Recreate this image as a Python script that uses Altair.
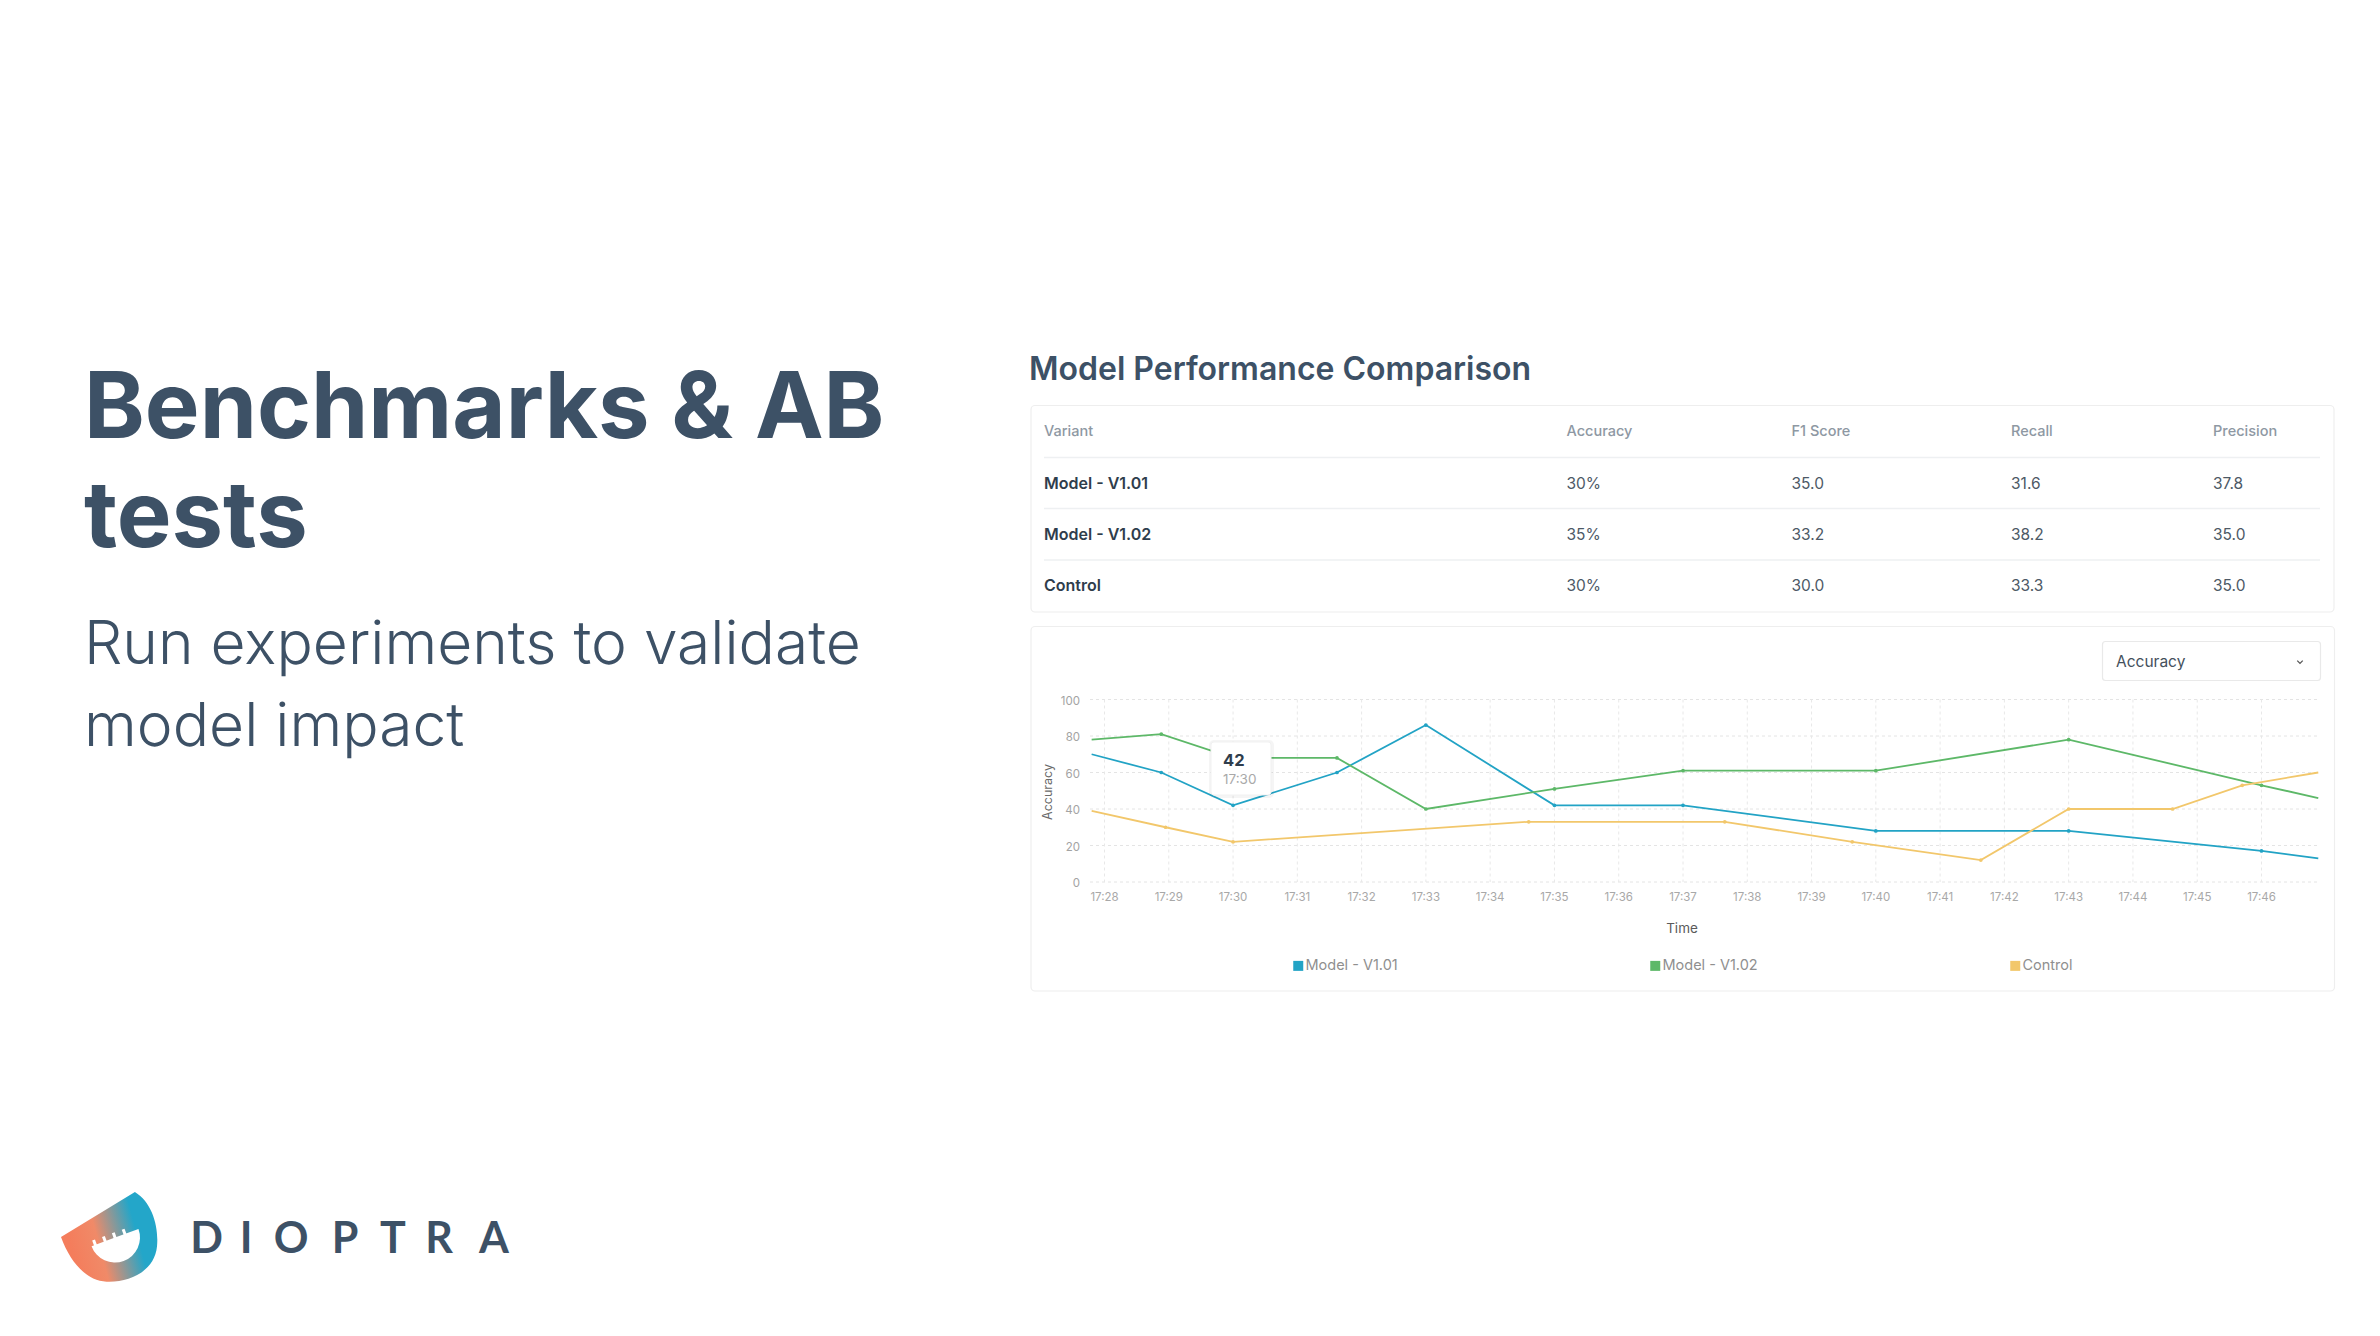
import altair as alt
import pandas as pd

# ---------------- data ----------------
SERIES = ["Model - V1.01", "Model - V1.02", "Control"]
COLORS = ["#22a3c5", "#5db868", "#f2c76b"]

V101_TIMES = ["17:27:48", "17:28:53", "17:30:00", "17:31:37", "17:33:00", "17:35:00",
              "17:37:00", "17:40:00", "17:43:00", "17:46:00", "17:46:53"]
V101_VALUES = [70, 60, 42, 60, 86, 42, 42, 28, 28, 17, 13]

V102_TIMES = ["17:27:48", "17:28:53", "17:30:00", "17:31:37", "17:33:00", "17:35:00",
              "17:37:00", "17:40:00", "17:43:00", "17:46:00", "17:46:53"]
V102_VALUES = [78, 81, 68, 68, 40, 51, 61, 61, 78, 53, 46]

CTRL_TIMES = ["17:27:48", "17:28:57", "17:30:00", "17:34:36", "17:37:39", "17:39:38",
              "17:41:38", "17:43:00", "17:44:37", "17:45:42", "17:46:53"]
CTRL_VALUES = [39, 30, 22, 33, 33, 22, 12, 40, 40, 53, 60]

X_TICK_LABELS = ["17:28", "17:29", "17:30", "17:31", "17:32", "17:33", "17:34", "17:35",
                 "17:36", "17:37", "17:38", "17:39", "17:40", "17:41", "17:42", "17:43",
                 "17:44", "17:45", "17:46"]
Y_TICKS = [0, 20, 40, 60, 80, 100]

TABLE_HEADERS = ["Variant", "Accuracy", "F1 Score", "Recall", "Precision"]
TABLE_VARIANTS = ["Model - V1.01", "Model - V1.02", "Control"]
TABLE_ACCURACY = ["30%", "35%", "30%"]
TABLE_F1 = ["35.0", "33.2", "30.0"]
TABLE_RECALL = ["31.6", "38.2", "33.3"]
TABLE_PRECISION = ["37.8", "35.0", "35.0"]

TOOLTIP_TIME = "17:30"

LOGO_LETTERS = ["D", "I", "O", "P", "T", "R", "A"]

# ---------------- helpers ----------------
FONT = "Inter"
DARK = "#3d5166"


def P(v):
    return v - 8


def minutes(t):
    parts = [int(p) for p in t.split(":")]
    while len(parts) < 3:
        parts.append(0)
    h, m, s = parts
    return h * 60 + m + s / 60 - (17 * 60 + 28)


rows = []
for name, times, vals in [(SERIES[0], V101_TIMES, V101_VALUES),
                          (SERIES[1], V102_TIMES, V102_VALUES),
                          (SERIES[2], CTRL_TIMES, CTRL_VALUES)]:
    for i, (t, v) in enumerate(zip(times, vals)):
        rows.append({"series": name, "minute": minutes(t), "value": v, "order": i,
                     "edge": i == 0 or i == len(times) - 1})
lines_df = pd.DataFrame(rows)
markers_df = lines_df[~lines_df["edge"]]

xt_df = pd.DataFrame({"minute": [minutes(l) for l in X_TICK_LABELS], "label": X_TICK_LABELS})
yt_df = pd.DataFrame({"value": Y_TICKS, "label": [str(v) for v in Y_TICKS]})

table_df = pd.DataFrame({
    "variant": TABLE_VARIANTS,
    "accuracy": TABLE_ACCURACY,
    "f1": TABLE_F1,
    "recall": TABLE_RECALL,
    "precision": TABLE_PRECISION,
})

ONE = pd.DataFrame({"k": [0]})

X_SCALE = alt.Scale(domain=[0, 18], range=[P(1104.5), P(2261.5)], nice=False, zero=False)
Y_SCALE = alt.Scale(domain=[0, 100], range=[P(882), P(699.5)], nice=False, zero=False)
C_SCALE = alt.Scale(domain=SERIES, range=COLORS)
ROW_SCALE = alt.Scale(type="point", domain=TABLE_VARIANTS, range=[P(484), P(586)], padding=0)

XQ = alt.X("minute:Q", scale=X_SCALE, axis=None)
YQ = alt.Y("value:Q", scale=Y_SCALE, axis=None)


def label(text, x, y, size, weight=400, color=DARK, align="left", baseline="alphabetic",
          angle=0, font=FONT):
    return alt.Chart(ONE).mark_text(
        text=text, align=align, baseline=baseline, fontSize=size, fontWeight=weight,
        color=color, font=font, angle=angle
    ).encode(x=alt.value(P(x)), y=alt.value(P(y)))


def box(x1, y1, x2, y2, fill="white", stroke="#ececec", sw=1.2, r=4, opacity=1):
    return alt.Chart(ONE).mark_rect(
        fill=fill, stroke=stroke, strokeWidth=sw, cornerRadius=r, opacity=opacity
    ).encode(x=alt.value(P(x1)), x2=alt.value(P(x2)), y=alt.value(P(y1)), y2=alt.value(P(y2)))


def seg(x1, y1, x2, y2, color="#eef0f2", sw=1.5, cap="butt"):
    return alt.Chart(ONE).mark_rule(color=color, strokeWidth=sw, strokeCap=cap).encode(
        x=alt.value(P(x1)), x2=alt.value(P(x2)), y=alt.value(P(y1)), y2=alt.value(P(y2)))


layers = []

# ---------------- left text ----------------
layers.append(label("Benchmarks & AB", 84, 438, 92, weight=700))
layers.append(label("tests", 84, 547, 92, weight=700))
layers.append(label("Run experiments to validate", 84, 664, 60.5, weight=300))
layers.append(label("model impact", 84, 746, 60.5, weight=300))

# ---------------- logo ----------------
LOGO_PATH = ("M -1 0 L 0.54 -0.94 C 0.9 -0.72 1.04 -0.22 1.0 0.2 "
             "C 0.95 0.7 0.45 0.95 -0.05 0.93 C -0.45 0.92 -0.8 0.55 -1 0 Z")
grad = alt.LinearGradient(
    gradient="linear",
    stops=[alt.GradientStop(color="#f47d5c", offset=0.0),
           alt.GradientStop(color="#f08a68", offset=0.35),
           alt.GradientStop(color="#23a6c9", offset=0.85)],
    x1=0.1, y1=0.6, x2=0.9, y2=0.4,
)
layers.append(alt.Chart(ONE).mark_point(
    shape=LOGO_PATH, size=9216, filled=True, fill=grad, strokeWidth=0, opacity=1
).encode(x=alt.value(P(109)), y=alt.value(P(1237))))
layers.append(alt.Chart(ONE).mark_arc(
    theta=1.219, theta2=4.36, radius=25, color="white", opacity=1
).encode(x=alt.value(P(115)), y=alt.value(P(1237.5))))
# ruler teeth on the flat edge
ux, uy = 0.938, -0.345
nx, ny = -0.345, -0.938
for s in [-21, -10.5, 0, 10.5]:
    bx, by = 115 + s * ux, 1237.5 - s * 0.345
    layers.append(seg(bx - nx * 1, by - ny * 1, bx + nx * 5, by + ny * 5, color="white", sw=3))

logo_df = pd.DataFrame({"letter": LOGO_LETTERS})
LOGO_CENTERS = [206.5, 246, 291, 345, 393, 439, 494]
logo_df["px"] = [P(c) for c in LOGO_CENTERS]
layers.append(alt.Chart(logo_df).mark_text(
    align="center", baseline="alphabetic", fontSize=43, fontWeight=700, font="Lato", color=DARK
).encode(x=alt.X("px:Q", scale=None, axis=None), y=alt.value(P(1253)), text="letter:N"))

# ---------------- table card ----------------
layers.append(label("Model Performance Comparison", 1029, 380, 32, weight=600))
layers.append(box(1031, 405.5, 2334, 612, stroke="#eeeeee"))
for yy in [457.5, 508.5, 560]:
    layers.append(seg(1044, yy, 2320, yy))

COL_X = [1044, 1566.5, 1791.5, 2011, 2213]
COL_FIELDS = ["variant", "accuracy", "f1", "recall", "precision"]
for hdr, fld, cx in zip(TABLE_HEADERS, COL_FIELDS, COL_X):
    layers.append(label(hdr, cx, 432, 14.5, weight=500, color="#8e98a3", baseline="middle"))
    bold = fld == "variant"
    layers.append(alt.Chart(table_df).mark_text(
        align="left", baseline="middle", fontSize=16 if bold else 15.5, font=FONT,
        fontWeight=600 if bold else 400, color="#2f3d4c" if bold else "#4d5966"
    ).encode(
        x=alt.value(P(cx)),
        y=alt.Y("variant:N", scale=ROW_SCALE, axis=None),
        text=f"{fld}:N",
    ))

# ---------------- chart card ----------------
layers.append(box(1031, 626.5, 2334.5, 991, stroke="#eeeeee"))
# dropdown
layers.append(box(2102.5, 641.5, 2320.5, 680.5, stroke="#e9e9e9", r=3))
layers.append(label("Accuracy", 2116, 662, 15.5, color="#44505c", baseline="middle"))
layers.append(alt.Chart(ONE).mark_point(
    shape="M -1 -0.5 L 0 0.5 L 1 -0.5", filled=False, size=30, strokeWidth=1.3,
    color="#555555", opacity=1
).encode(x=alt.value(P(2300)), y=alt.value(P(662))))

# grid
layers.append(alt.Chart(yt_df).mark_rule(strokeDash=[3, 3], color="#e4e4e4", strokeWidth=1).encode(
    y=YQ, x=alt.value(P(1090)), x2=alt.value(P(2320))))
layers.append(alt.Chart(xt_df).mark_rule(strokeDash=[3, 3], color="#e8e8e8", strokeWidth=1).encode(
    x=XQ, y=alt.value(P(699.5)), y2=alt.value(P(882))))

# axis labels
layers.append(alt.Chart(yt_df).mark_text(
    align="right", baseline="middle", fontSize=11.5, font=FONT, color="#a3a3a3", dy=2
).encode(y=YQ, x=alt.value(P(1080)), text="label:N"))
layers.append(alt.Chart(xt_df).mark_text(
    align="center", baseline="middle", fontSize=11.5, font=FONT, color="#a8a8a8"
).encode(x=XQ, y=alt.value(P(898)), text="label:N"))
layers.append(label("Accuracy", 1048, 792, 12.5, color="#6b6b6b", align="center",
                    baseline="middle", angle=270))
layers.append(label("Time", 1682, 928.5, 13.5, color="#5a5a5a", align="center", baseline="middle"))

# lines + markers
legend = alt.Legend(
    title=None, orient="none", legendX=P(1291), legendY=P(958.5), direction="horizontal",
    symbolType="square", symbolSize=25, symbolStrokeWidth=5, labelFont=FONT,
    labelFontSize=14.5, labelColor="#8f8f8f", labelOffset=0, columnPadding=244, padding=0,
)
layers.append(alt.Chart(lines_df).mark_line(strokeWidth=1.8).encode(
    x=XQ, y=YQ, order="order:Q",
    color=alt.Color("series:N", scale=C_SCALE, legend=legend, sort=SERIES),
))
layers.append(alt.Chart(markers_df).mark_point(filled=True, size=14, opacity=1, strokeWidth=0).encode(
    x=XQ, y=YQ,
    fill=alt.Fill("series:N", scale=C_SCALE, legend=None),
))

# tooltip
tip_value = str(V101_VALUES[V101_TIMES.index(TOOLTIP_TIME + ":00")])
layers.append(box(1209, 740, 1274, 798, fill="#000000", stroke="#000000", sw=0, r=5, opacity=0.04))
layers.append(box(1211, 742, 1271, 795, fill="white", stroke="#f1f1f1", sw=1, r=3))
layers.append(label(tip_value, 1223, 761, 16.5, weight=700, color="#2f3d4c", baseline="middle"))
layers.append(label(TOOLTIP_TIME, 1223, 779.5, 13.5, color="#a9a9a9", baseline="middle"))

chart = alt.layer(*layers).resolve_scale(x="independent", y="independent").properties(
    width=2364, height=1320, autosize=alt.AutoSizeParams(type="none"), padding=0,
    background="#ffffff",
).configure_view(stroke=None)

chart.save("out.html", embed_options={"renderer": "svg", "actions": False})
